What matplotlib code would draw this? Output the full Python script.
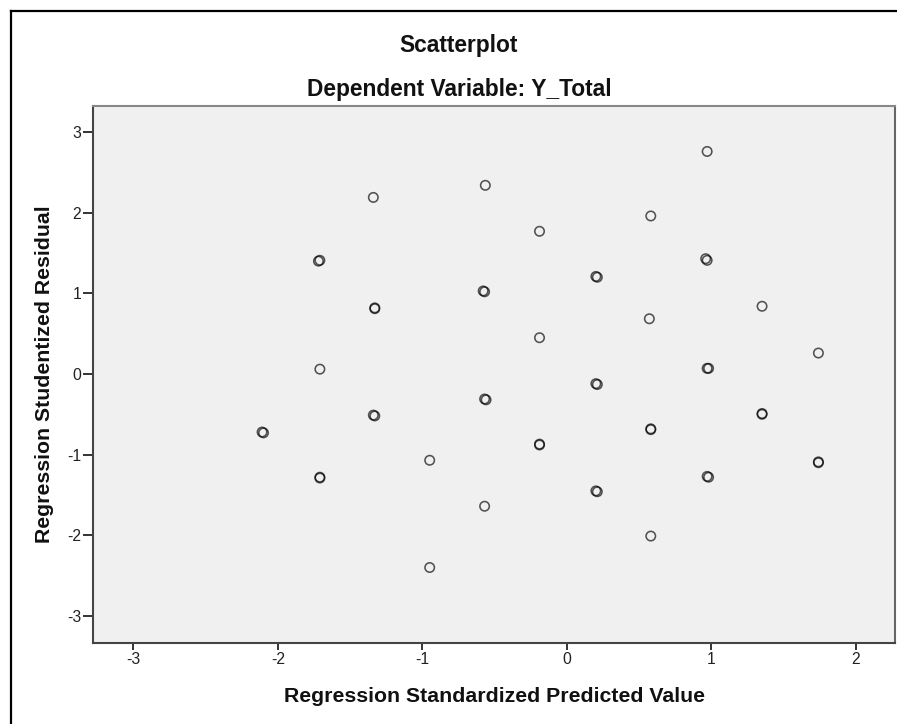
import matplotlib.pyplot as plt
from matplotlib.lines import Line2D

# Standardized predicted values (x) and studentized residuals (y)
pred_single = [-1.71, -1.34, -0.95, -0.95, -0.565, -0.57, -0.19, -0.19,
               0.58, 0.57, 0.58, 0.97, 1.35, 1.74]
resid_single = [0.06, 2.19, -1.07, -2.40, 2.34, -1.64, 1.77, 0.45,
                1.96, 0.685, -2.01, 2.76, 0.84, 0.26]

# overlapping cases (drawn darker in the original)
pred_multi = [-2.11, -2.10, -1.72, -1.71, -1.71, -1.71, -1.33, -1.33,
              -1.33, -1.34, -0.57, -0.58, -0.57, -0.56, -0.19, -0.19,
              0.20, 0.21, 0.20, 0.21, 0.20, 0.21, 0.58, 0.58,
              0.97, 0.96, 0.97, 0.98, 0.97, 0.98, 1.35, 1.35, 1.74, 1.74]
resid_multi = [-0.72, -0.73, 1.40, 1.41, -1.29, -1.28, 0.82, 0.81,
               -0.52, -0.51, 1.02, 1.03, -0.31, -0.32, -0.87, -0.88,
               1.21, 1.20, -0.12, -0.13, -1.45, -1.46, -0.68, -0.69,
               1.41, 1.43, 0.07, 0.07, -1.27, -1.28, -0.49, -0.50, -1.09, -1.10]

plt.rcParams['font.family'] = ['Liberation Sans', 'DejaVu Sans']
plt.rcParams['axes.unicode_minus'] = False

W, H = 897, 724
fig = plt.figure(figsize=(W / 100, H / 100), dpi=100)
fig.patch.set_facecolor('white')

# axes box (pixel positions from the reference)
left, right, top, bottom = 93, 895, 105.5, 642.5
ax = fig.add_axes([left / W, 1 - bottom / H, (right - left) / W, (bottom - top) / H])
ax.set_facecolor('#f0f0f0')

xs = pred_single + pred_multi
ys = resid_single + resid_multi
ax.scatter(xs, ys, s=46, facecolors='none', edgecolors='black',
           linewidths=1.15, alpha=0.66, zorder=3)

ax.set_xlim(-3.28, 2.27)
ax.set_ylim(-3.33, 3.33)
ax.set_xticks([-3, -2, -1, 0, 1, 2])
ax.set_yticks([-3, -2, -1, 0, 1, 2, 3])

for side, col in [('left', '#444444'), ('bottom', '#444444'),
                  ('right', '#666666'), ('top', '#888888')]:
    ax.spines[side].set_color(col)
    ax.spines[side].set_linewidth(1.5)

ax.tick_params(axis='x', length=5, width=1.4, color='#333333', pad=2,
               labelsize=11.3, labelcolor='#222222')
ax.tick_params(axis='y', length=7, width=1.4, color='#333333', pad=1.5,
               labelsize=11.3, labelcolor='#222222')

ax.set_xlabel('Regression Standardized Predicted Value', fontsize=15.3,
              fontweight='bold', labelpad=14, color='#111111')
ax.set_ylabel('Regression Studentized Residual', fontsize=15.3,
              fontweight='bold', labelpad=9, color='#111111')

# titles
fig.text(459 / W, 1 - 52.3 / H, 'Scatterplot', ha='center', va='baseline',
         fontsize=16.4, fontweight='bold', color='#111111')
fig.text(459 / W, 1 - 95.7 / H, 'Dependent Variable: Y_Total', ha='center',
         va='baseline', fontsize=16.4, fontweight='bold', color='#111111')

# outer frame (left and top edges visible in the reference)
fx, fy = 11 / W, 1 - 11 / H
fig.add_artist(Line2D([fx, fx], [0, fy], transform=fig.transFigure,
                      color='black', linewidth=1.6))
fig.add_artist(Line2D([fx, 1], [fy, fy], transform=fig.transFigure,
                      color='black', linewidth=1.6))

fig.savefig('out.png', dpi=100)
